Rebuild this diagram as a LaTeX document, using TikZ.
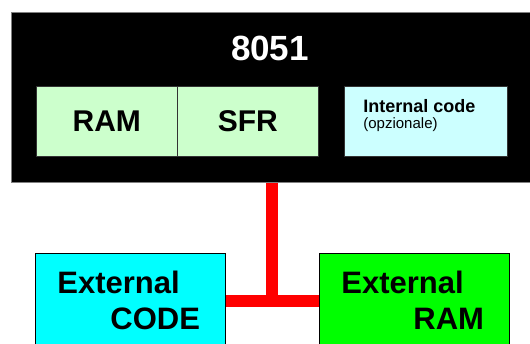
\documentclass[tikz,border=0pt]{standalone}
\usepackage{fontspec}
\setmainfont{Liberation Sans}
\usepackage{xcolor}
\usetikzlibrary{positioning, calc}

\definecolor{ramgreen}{HTML}{CCFFCC}
\definecolor{codecyan}{HTML}{CCFFFF}
\definecolor{extcyan}{HTML}{00FFFF}
\definecolor{extgreen}{HTML}{00FF00}

\begin{document}
\begin{tikzpicture}[x=1pt, y=-1pt, thick,
					chipbox/.style={rectangle, draw=gray, fill=black, line width=0.8pt, anchor=north west, minimum width=524pt, minimum height=170pt, inner sep=0pt},
					membox/.style={rectangle, draw=black!80, line width=0.6pt, anchor=north west, minimum height=70pt, inner sep=0pt, font=\bfseries\fontsize{30}{36}\selectfont},
					extbox/.style={rectangle, draw=black, line width=0.8pt, anchor=north west, minimum width=190pt, minimum height=130pt, inner sep=0pt},
					exttext/.style={anchor=base west, align=left, inner sep=0pt, font=\bfseries\fontsize{31}{36}\selectfont},
					bus/.style={draw=red, line width=11.5pt}
				]
					\path[use as bounding box, clip] (0,0) rectangle (530,343);

					% Nodes
					\node[chipbox] (chip) at (11,12) {};
					\node[anchor=base, text=white, font=\bfseries\fontsize{35}{40}\selectfont] (name) at (270,60) {8051};
					\node[membox, fill=ramgreen, minimum width=141pt] (ram) at (36,86) {RAM};
					\node[membox, fill=ramgreen, minimum width=141pt] (sfr) at (177,86) {SFR};
					\node[membox, fill=codecyan, minimum width=163pt] (intcode) at (344,86) {};
					\node[anchor=base west, align=left, inner sep=0pt, font=\fontsize{15}{16}\selectfont] (inttext) at ($(intcode.north west)+(19,42)$)
						{\bfseries\fontsize{18}{16}\selectfont Internal code\\[0pt](opzionale)};
					\node[extbox, fill=extcyan] (extcode) at (35,253) {};
					\node[exttext] (codetext) at ($(extcode.north west)+(22,76)$) {External\\\hspace*{53pt}CODE};
					\node[extbox, fill=extgreen] (extram) at (319,253) {};
					\node[exttext] (ramtext) at ($(extram.north west)+(22,76)$) {External\\\hspace*{72pt}RAM};

					% Bus
					\coordinate (tee) at (272,301);
					\draw[bus] (tee |- chip.south) -- (tee);
					\draw[bus] (extcode.east |- tee) -- (extram.west |- tee);
				\end{tikzpicture}
\end{document}
